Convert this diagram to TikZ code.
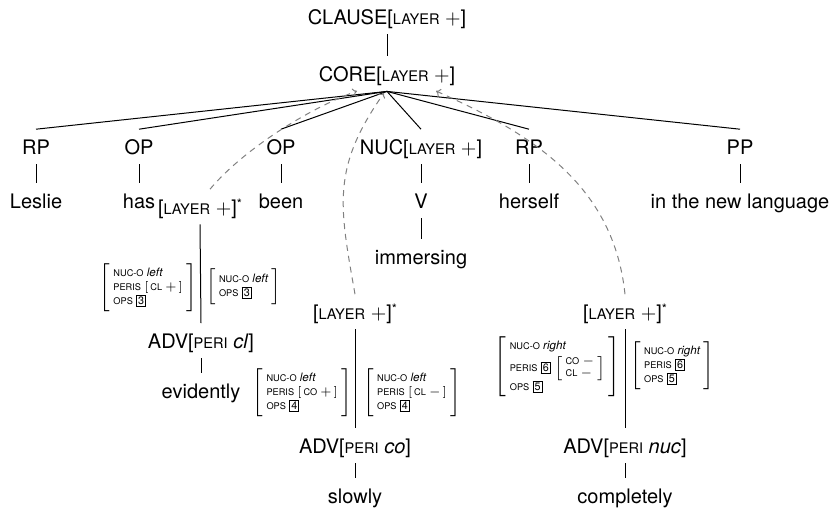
\documentclass[tikz,border=0pt]{standalone}
\usepackage{fontspec}
\setmainfont{TeX Gyre Heros}
\usetikzlibrary{arrows.meta}
\newcommand\lsc[1]{{\fontsize{7.3}{8}\selectfont #1}}
\newcommand\asc[1]{{\fontsize{4.6}{5}\selectfont #1}}
\newcommand\ait[1]{{\fontsize{5.8}{6}\selectfont\itshape #1}}
\newcommand\bxn[1]{{\setlength\fboxsep{0.6pt}\setlength\fboxrule{0.45pt}\fbox{\fontsize{5.4}{5.4}\selectfont #1}}}
\newcommand\lay{[\lsc{LAYER} $+$]}
\newcommand\myast{\raisebox{3pt}{\fontsize{6.5}{6.5}\selectfont *}}
\newcommand\avm[1]{$\left[\begin{tabular}{@{\;}l@{\;}}#1\end{tabular}\right]$}
\newcommand\iavm[1]{$\left[\mbox{\,#1\,}\right]$}
\begin{document}
\begin{tikzpicture}[x=0.5pt,y=-0.5pt,
  lab/.style={anchor=base, inner xsep=0pt, inner ysep=5pt, text height=7.2pt, text depth=0pt, font=\fontsize{10}{12}\selectfont},
  edge/.style={line width=0.5pt, black},
  avmn/.style={inner sep=0pt, font=\fontsize{5.8}{7}\selectfont},
  mv/.style={draw=gray, line width=0.5pt, dash pattern=on 3pt off 2.5pt, -{To[length=2.2pt,width=4pt]}}
]
\useasboundingbox (0,0) rectangle (835,509);
% tree labels
\node[lab] (clause) at (387,24) {CLAUSE\lay};
\node[lab] (core) at (387,81) {CORE\lay};
\node[lab] (rp1) at (36,154) {RP};
\node[lab] (op1) at (139,154) {OP};
\node[lab] (op2) at (281,154) {OP};
\node[lab] (nuc) at (421,154) {NUC\lay};
\node[lab] (rp2) at (529,154) {RP};
\node[lab] (pp) at (740,154) {PP};
\node[lab] (leslie) at (36,208) {Leslie};
\node[lab] (has) at (139,208) {has};
\node[lab] (layh) at (200,214) {\lay\myast};
\node[lab] (been) at (281,208) {been};
\node[lab] (v) at (421,208) {V};
\node[lab] (herself) at (529,208) {herself};
\node[lab] (lang) at (740,208) {in the new language};
\node[lab] (immersing) at (421,264) {immersing};
\node[lab] (advcl) at (201,348) {ADV[\lsc{PERI} \textit{cl}]};
\node[lab] (evid) at (201,398) {evidently};
\node[lab] (laym) at (355,319) {\lay\myast};
\node[lab] (advco) at (355,453) {ADV[\lsc{PERI} \textit{co}]};
\node[lab] (slowly) at (355,503) {slowly};
\node[lab] (layr) at (625,319) {\lay\myast};
\node[lab] (advnuc) at (625,453) {ADV[\lsc{PERI} \textit{nuc}]};
\node[lab] (compl) at (625,503) {completely};
% AVMs
\node[avmn, anchor=east] (a1) at (197,288) {\avm{\asc{NUC-O} \ait{left}\\ \asc{PERIS} \iavm{\asc{CL} $+$}\\ \asc{OPS} \bxn{3}}};
\node[avmn, anchor=west] (a2) at (206,287) {\avm{\asc{NUC-O} \ait{left}\\ \asc{OPS} \bxn{3}}};
\node[avmn, anchor=east] (b1) at (352,393) {\avm{\asc{NUC-O} \ait{left}\\ \asc{PERIS} \iavm{\asc{CO} $+$}\\ \asc{OPS} \bxn{4}}};
\node[avmn, anchor=west] (b2) at (363,393) {\avm{\asc{NUC-O} \ait{left}\\ \asc{PERIS} \iavm{\asc{CL} $-$}\\ \asc{OPS} \bxn{4}}};
\node[avmn, anchor=east] (c1) at (621,367) {\avm{\asc{NUC-O} \ait{right}\\[1.5pt] \asc{PERIS} \bxn{6} {\fontsize{5.8}{6}\selectfont$\left[\begin{tabular}{@{\;}l@{\;}}\asc{CO} $-$\\ \asc{CL} $-$\end{tabular}\right]$}\\[1pt] \asc{OPS} \bxn{5}}};
\node[avmn, anchor=west] (c2) at (630,366) {\avm{\asc{NUC-O} \ait{right}\\ \asc{PERIS} \bxn{6}\\ \asc{OPS} \bxn{5}}};
% edges
\draw[edge] (clause.south) -- (core.north);
\foreach \n in {rp1,op1,op2,nuc,rp2,pp} \draw[edge] (core.south) -- (\n.north);
\draw[edge] (rp1.south) -- (leslie.north);
\draw[edge] (op1.south) -- (has.north);
\draw[edge] (op2.south) -- (been.north);
\draw[edge] (nuc.south) -- (v.north);
\draw[edge] (rp2.south) -- (herself.north);
\draw[edge] (pp.south) -- (lang.north);
\draw[edge] (v.south) -- (immersing.north);
\draw[edge] (layh.south) -- (advcl.north);
\draw[edge] (advcl.south) -- (evid.north);
\draw[edge] (laym.south) -- (advco.north);
\draw[edge] (advco.south) -- (slowly.north);
\draw[edge] (layr.south) -- (advnuc.north);
\draw[edge] (advnuc.south) -- (compl.north);
% dashed movement arrows
\coordinate (t1) at (357,91);
\coordinate (t2) at (384,93);
\coordinate (t3) at (436,91);
\draw[mv] ([xshift=5pt]layh.north) to[out=50,in=200,looseness=0.75] (t1);
\draw[mv] (laym.north) to[out=100,in=235,looseness=1.15] (t2);
\draw[mv] (layr.north) to[out=96,in=-24] (t3);
\end{tikzpicture}
\end{document}
